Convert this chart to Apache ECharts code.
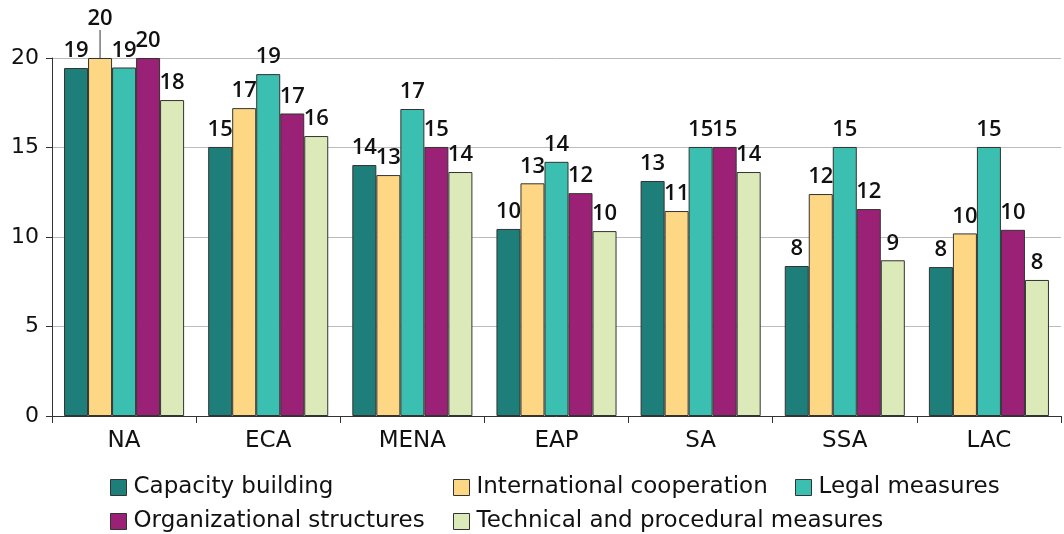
<!DOCTYPE html>
<html>
<head>
    <meta charset="UTF-8">
    <title></title>
    <script src="https://cdn.jsdelivr.net/npm/echarts@6/dist/echarts.min.js"></script>
</head>
<body style="margin:0">
<div id="container" style="height:534px;width:1064px;"></div>
<script>
    var regions = ['NA', 'ECA', 'MENA', 'EAP', 'SA', 'SSA', 'LAC'];
    var seriesNames = ['Capacity building', 'International cooperation', 'Legal measures',
        'Organizational structures', 'Technical and procedural measures'];
    var capacity = [19.44, 15.03, 14.02, 10.45, 13.13, 8.38, 8.32];
    var intlCoop = [20.0, 17.2, 13.46, 13.0, 11.45, 12.4, 10.2];
    var legal = [19.47, 19.1, 17.15, 14.2, 15.03, 15.03, 15.03];
    var orgStruct = [20.0, 16.9, 15.03, 12.45, 15.03, 11.56, 10.4];
    var technical = [17.65, 15.64, 13.63, 10.33, 13.63, 8.7, 7.6];
    var colors = ['#1e7f7a', '#fdd783', '#3bbfb0', '#9b2176', '#dce9b8'];

    var font = 'DejaVu Sans';
    var labelFont = 'Open Sans';
    var dom = document.getElementById("container");
    var myChart = echarts.init(dom);

    function makeSeries(i, data) {
        var s = {
            name: seriesNames[i],
            type: 'bar',
            data: data,
            barGap: 0,
            barCategoryGap: '16.7%',
            itemStyle: {color: colors[i], borderColor: '#333', borderWidth: 1},
            label: {
                show: true,
                position: 'top',
                distance: 6,
                color: '#111',
                fontFamily: labelFont,
                fontSize: 22,
                fontWeight: 600,
                formatter: function (p) { return Math.round(p.value); }
            }
        };
        if (i === 1) {
            // NA label pushed up with a guide line
            s.data = data.map(function (v, k) {
                return k === 0 ? {value: v, labelLine: {show: true, lineStyle: {color: '#333', width: 1}}} : v;
            });
            s.labelLayout = function (p) {
                if (p.dataIndex === 0) return {dy: -22};
                return {};
            };
        }
        return s;
    }

    // legend laid out as columns
    var legendPos = [[110, 476], [453, 476], [795, 476], [110, 510], [453, 510]];
    var legends = seriesNames.map(function (n, i) {
        return {
            data: [n],
            left: legendPos[i][0],
            top: legendPos[i][1],
            padding: 0,
            icon: 'rect',
            itemWidth: 16,
            itemHeight: 16,
            itemGap: 0,
            itemStyle: {borderColor: '#333', borderWidth: 1},
            textStyle: {fontFamily: font, fontSize: 23, color: '#111', padding: [0, 0, 0, 2]}
        };
    });

    var option = {
        animation: false,
        legend: legends,
        grid: {left: 52, right: 3, top: 58, bottom: 118},
        xAxis: {
            type: 'category',
            data: regions,
            axisLine: {lineStyle: {color: '#333'}},
            axisTick: {show: true, length: 7, lineStyle: {color: '#333'}},
            axisLabel: {fontFamily: font, fontSize: 23, color: '#111', margin: 14}
        },
        yAxis: {
            type: 'value',
            min: 0,
            max: 20,
            interval: 5,
            axisLine: {show: true, lineStyle: {color: '#333'}},
            axisTick: {show: true, length: 6, lineStyle: {color: '#333'}},
            axisLabel: {fontFamily: font, fontSize: 22, color: '#111', margin: 13},
            splitLine: {lineStyle: {color: '#bbb'}}
        },
        series: [
            makeSeries(0, capacity),
            makeSeries(1, intlCoop),
            makeSeries(2, legal),
            makeSeries(3, orgStruct),
            makeSeries(4, technical)
        ]
    };
    myChart.setOption(option);
</script>
</body>
</html>
